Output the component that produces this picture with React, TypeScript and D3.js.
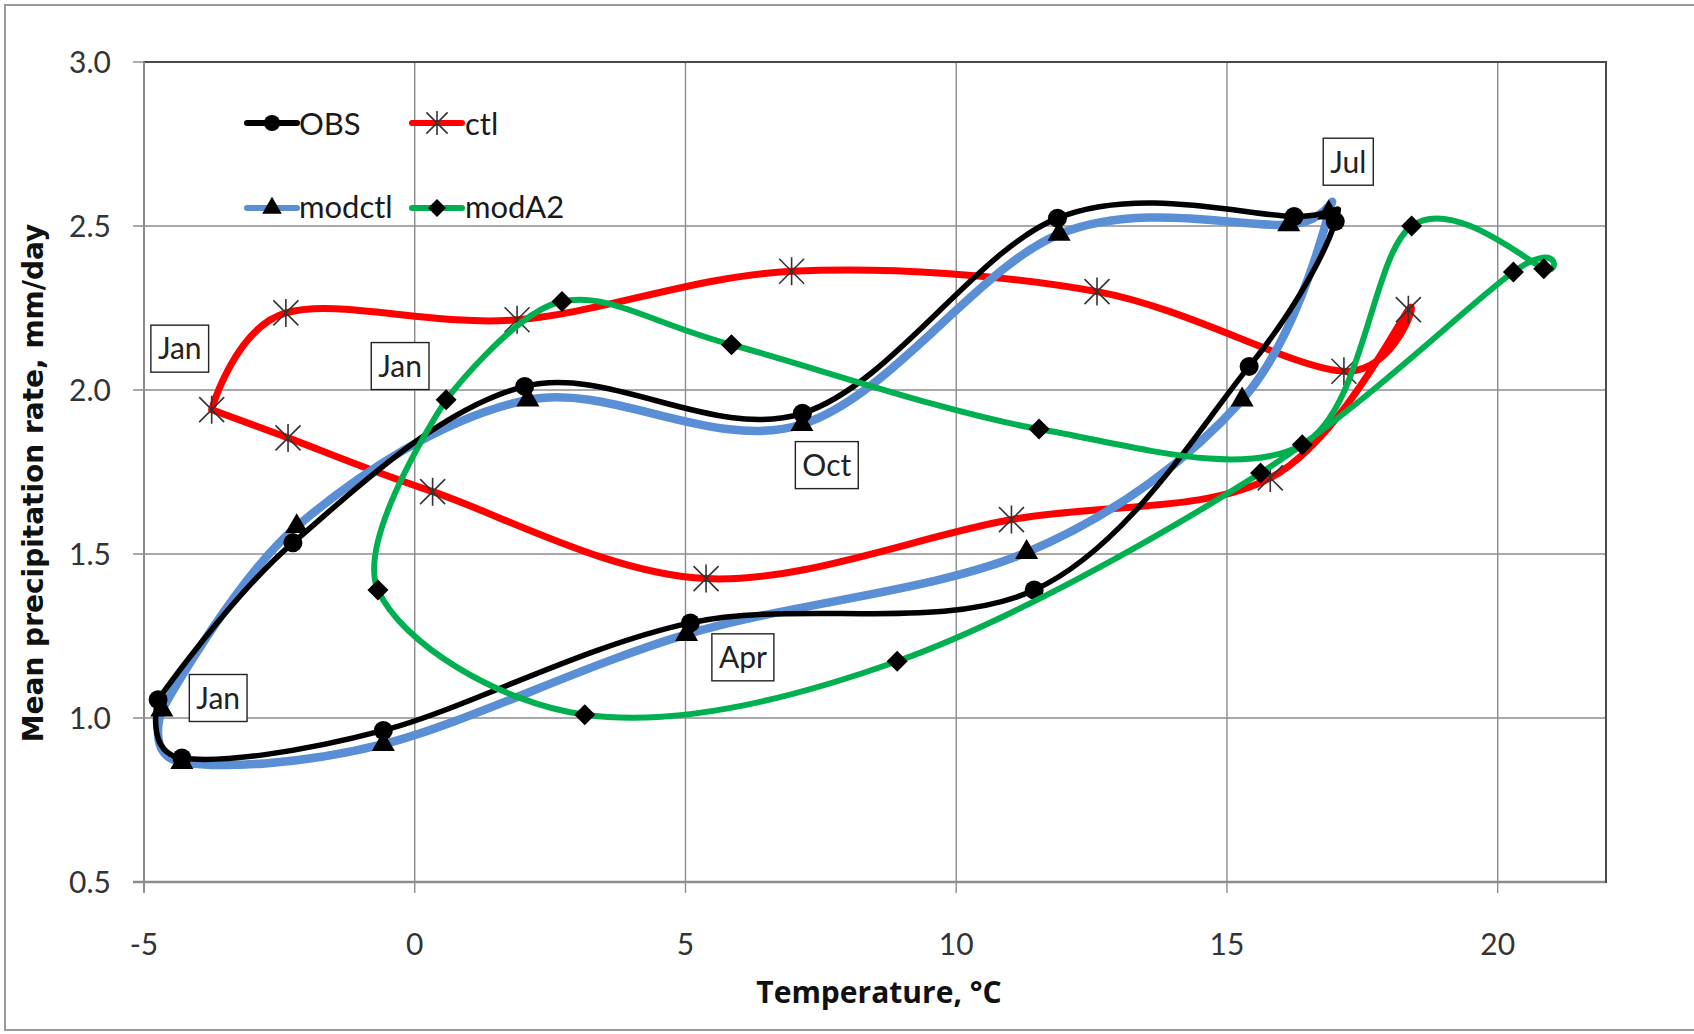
import React, { useEffect, useRef } from "react";
import * as d3 from "d3";

// monthly climatology loops (Jan..Dec)
const months = ["Jan", "Feb", "Mar", "Apr", "May", "Jun", "Jul", "Aug", "Sep", "Oct", "Nov", "Dec"];

const obsTemp = [-4.74, -4.3, -0.58, 5.09, 11.44, 15.41, 17.0, 16.24, 11.87, 7.16, 2.03, -2.25];
const obsPrecip = [1.056, 0.878, 0.962, 1.29, 1.39, 2.072, 2.514, 2.529, 2.524, 1.929, 2.011, 1.534];

const ctlTemp = [-3.75, -2.34, 0.33, 5.38, 11.02, 15.8, 18.35, 17.16, 12.6, 6.96, 1.89, -2.38];
const ctlPrecip = [1.94, 1.854, 1.69, 1.425, 1.605, 1.732, 2.245, 2.057, 2.3, 2.362, 2.214, 2.235];

const modctlTemp = [-4.67, -4.3, -0.58, 5.02, 11.3, 15.28, 16.88, 16.14, 11.9, 7.15, 2.09, -2.18];
const modctlPrecip = [1.025, 0.865, 0.92, 1.255, 1.505, 1.97, 2.54, 2.504, 2.475, 1.895, 1.97, 1.584];

const modA2Temp = [0.58, -0.68, 3.14, 8.91, 15.62, 20.29, 20.85, 18.41, 16.39, 11.53, 5.85, 2.72];
const modA2Precip = [1.97, 1.39, 1.01, 1.173, 1.747, 2.36, 2.37, 2.5, 1.833, 1.881, 2.138, 2.27];

const xTicks = [-5, 0, 5, 10, 15, 20];
const yTicks = [0.5, 1.0, 1.5, 2.0, 2.5, 3.0];

// month call-outs (anchored in data units)
const noteText = ["Jan", "Jan", "Jan", "Oct", "Apr", "Jul"];
const noteTemp = [-4.34, -0.27, -3.63, 7.61, 6.06, 17.24];
const notePrecip = [2.126, 2.073, 1.061, 1.771, 1.185, 2.696];

const W = 1694;
const H = 1034;
const box = { left: 144, right: 1606, top: 62, bottom: 882 };
const FONT = "Lato, 'Open Sans', sans-serif";

const App = () => {
  const ref = useRef<SVGSVGElement>(null);

  useEffect(() => {
    const svg = d3.select(ref.current);
    svg.selectAll("*").remove();

    const x = d3.scaleLinear().domain([-5, 22]).range([box.left, box.right]);
    const y = d3.scaleLinear().domain([0.5, 3.0]).range([box.bottom, box.top]);

    // outer chart frame (right side runs off the page, as in the source)
    svg
      .append("rect")
      .attr("x", 5)
      .attr("y", 5)
      .attr("width", W + 20)
      .attr("height", H - 9)
      .attr("fill", "#fff")
      .attr("stroke", "#9a9a9a")
      .attr("stroke-width", 2);

    // plot border (top/right show darker)
    svg
      .append("rect")
      .attr("x", box.left)
      .attr("y", box.top)
      .attr("width", box.right - box.left)
      .attr("height", box.bottom - box.top)
      .attr("fill", "none")
      .attr("stroke", "#4a4a4a")
      .attr("stroke-width", 2);

    const grid = svg.append("g").attr("stroke", "#8c8c8c").attr("stroke-width", 1.4);
    xTicks.forEach((t) => {
      grid
        .append("line")
        .attr("x1", x(t))
        .attr("x2", x(t))
        .attr("y1", t === -5 ? box.top : box.top + 1)
        .attr("y2", box.bottom + 11)
        .attr("stroke-width", t === -5 ? 2 : 1.4);
    });
    yTicks.forEach((t) => {
      grid
        .append("line")
        .attr("x1", box.left - 11)
        .attr("x2", t === 3.0 ? box.left : box.right - 1)
        .attr("y1", y(t))
        .attr("y2", y(t))
        .attr("stroke-width", t === 0.5 ? 2.4 : 1.4);
    });

    // tick labels
    svg
      .append("g")
      .selectAll("text")
      .data(xTicks)
      .enter()
      .append("text")
      .attr("x", (d) => x(d))
      .attr("y", 944)
      .attr("dy", "0.35em")
      .attr("text-anchor", "middle")
      .attr("font-family", FONT)
      .attr("font-size", 30)
      .attr("fill", "#333")
      .text((d) => String(d));

    svg
      .append("g")
      .selectAll("text")
      .data(yTicks)
      .enter()
      .append("text")
      .attr("x", 111)
      .attr("y", (d) => y(d))
      .attr("dy", "0.35em")
      .attr("text-anchor", "end")
      .attr("font-family", FONT)
      .attr("font-size", 30)
      .attr("fill", "#333")
      .text((d) => d3.format(".1f")(d));

    // axis titles
    svg
      .append("text")
      .attr("transform", "translate(33,483) rotate(-90)")
      .attr("dy", "0.35em")
      .attr("text-anchor", "middle")
      .attr("font-family", "'DejaVu Sans', Verdana, sans-serif")
      .attr("font-weight", "bold")
      .attr("font-size", 28)
      .attr("fill", "#111")
      .text("Mean precipitation rate, mm/day");

    svg
      .append("text")
      .attr("x", 879)
      .attr("y", 1003)
      .attr("text-anchor", "middle")
      .attr("font-family", "'Open Sans', Lato, sans-serif")
      .attr("font-weight", "bold")
      .attr("font-size", 30)
      .attr("fill", "#111")
      .text("Temperature, °C");

    const series = [
      { name: "ctl", temp: ctlTemp, precip: ctlPrecip, color: "#ff0000", width: 7, marker: "star" },
      { name: "modctl", temp: modctlTemp, precip: modctlPrecip, color: "#5a8fd5", width: 8.5, marker: "triangle" },
      { name: "OBS", temp: obsTemp, precip: obsPrecip, color: "#000000", width: 5.5, marker: "circle" },
      { name: "modA2", temp: modA2Temp, precip: modA2Precip, color: "#00b050", width: 6, marker: "diamond" },
    ];

    const drawMarker = (g, kind, cx, cy, k) => {
      if (kind === "circle") {
        g.append("circle").attr("cx", cx).attr("cy", cy).attr("r", 9.5 * k).attr("fill", "#000");
      } else if (kind === "triangle") {
        g.append("path")
          .attr("transform", `translate(${cx},${cy})`)
          .attr("d", d3.symbol().type(d3.symbolTriangle).size(230 * k * k)())
          .attr("fill", "#000");
      } else if (kind === "diamond") {
        const s = 10.5 * k;
        g.append("path")
          .attr("d", `M${cx},${cy - s}L${cx + s},${cy}L${cx},${cy + s}L${cx - s},${cy}Z`)
          .attr("fill", "#000");
      } else {
        const a = 14 * k;
        const b = 12.5 * k;
        g.append("path")
          .attr(
            "d",
            `M${cx},${cy - a}V${cy + a}M${cx - b},${cy - b}L${cx + b},${cy + b}M${cx - b},${cy + b}L${cx + b},${cy - b}`
          )
          .attr("stroke", "#333")
          .attr("stroke-width", 1.6)
          .attr("fill", "none");
      }
    };

    const line = d3
      .line()
      .x((d) => x(d[0]))
      .y((d) => y(d[1]))
      .curve(d3.curveCardinal.tension(0));

    series.forEach((s) => {
      const pts = months.map((m, i) => [s.temp[i], s.precip[i]]);
      pts.push(pts[0]);
      const g = svg.append("g");
      g.append("path")
        .attr("d", line(pts))
        .attr("fill", "none")
        .attr("stroke", s.color)
        .attr("stroke-width", s.width)
        .attr("stroke-linejoin", "round")
        .attr("stroke-linecap", "round");
      pts.slice(0, 12).forEach((p) => drawMarker(g, s.marker, x(p[0]), y(p[1]), 1));
    });

    // legend
    const legend = [
      { name: "OBS", color: "#000000", marker: "circle", lx: 247, ly: 123, tx: 299, ty: 135 },
      { name: "ctl", color: "#ff0000", marker: "star", lx: 412, ly: 123, tx: 465, ty: 135 },
      { name: "modctl", color: "#5a8fd5", marker: "triangle", lx: 247, ly: 208, tx: 299, ty: 218 },
      { name: "modA2", color: "#00b050", marker: "diamond", lx: 412, ly: 208, tx: 465, ty: 218 },
    ];
    legend.forEach((l) => {
      const g = svg.append("g");
      g.append("line")
        .attr("x1", l.lx)
        .attr("x2", l.lx + 50)
        .attr("y1", l.ly)
        .attr("y2", l.ly)
        .attr("stroke", l.color)
        .attr("stroke-width", 6)
        .attr("stroke-linecap", "round");
      drawMarker(g, l.marker, l.lx + 25, l.ly, 0.85);
      g.append("text")
        .attr("x", l.tx)
        .attr("y", l.ty)
        .attr("font-family", FONT)
        .attr("font-size", 31)
        .attr("fill", "#1a1a1a")
        .text(l.name);
    });

    // month call-out boxes
    noteText.forEach((t, i) => {
      const g = svg.append("g").attr("transform", `translate(${x(noteTemp[i])},${y(notePrecip[i])})`);
      const rect = g.append("rect").attr("fill", "#fff").attr("stroke", "#222").attr("stroke-width", 1.4);
      const txt = g
        .append("text")
        .attr("text-anchor", "middle")
        .attr("dy", "0.36em")
        .attr("font-family", FONT)
        .attr("font-size", 30)
        .attr("fill", "#222")
        .text(t);
      const w = (txt.node() as SVGTextElement).getComputedTextLength() + 14;
      rect.attr("x", -w / 2).attr("y", -23.5).attr("width", w).attr("height", 47);
    });
  }, []);

  return (
    <svg
      ref={ref}
      width={W}
      height={H}
      style={{ position: "absolute", left: 0, top: 0, display: "block", background: "#fff" }}
    />
  );
};

export default App;
